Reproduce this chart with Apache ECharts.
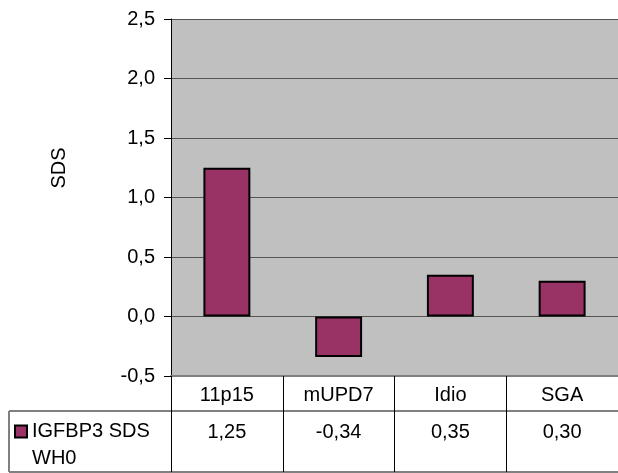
<!DOCTYPE html>
<html>
<head>
<meta charset="utf-8">
<script src="https://cdn.jsdelivr.net/npm/echarts@6/dist/echarts.min.js"></script>
<style>
html,body{margin:0;padding:0;background:#fff;}
#chart{width:618px;height:473px;}
</style>
</head>
<body>
<div id="chart"></div>
<script>
// Data
var categories = ['11p15', 'mUPD7', 'Idio', 'SGA'];
var seriesName = 'IGFBP3 SDS WH0';
var values = [1.25, -0.34, 0.35, 0.30];
var yTicks = [-0.5, 0.0, 0.5, 1.0, 1.5, 2.0, 2.5];
var yAxisTitle = 'SDS';

function fmt(v, d) { return v.toFixed(d).replace('.', ','); }

var FONT = 'Liberation Sans, Arial, sans-serif';
var FS = 20;
var chart = echarts.init(document.getElementById('chart'), null, {renderer: 'canvas'});

var GL = 171, GT = 19, GW = 452, GH = 357;
var tableTop = GT + GH;      // 376
var row1 = tableTop + 35;    // 411
var row2 = 472;

chart.setOption({
  animation: false,
  backgroundColor: '#ffffff',
  textStyle: {fontFamily: FONT},
  grid: {
    left: GL, top: GT, width: GW, height: GH,
    show: true, backgroundColor: '#c0c0c0', borderWidth: 0
  },
  legend: {
    left: 14, top: 391,
    padding: 0,
    itemWidth: 12, itemHeight: 12,
    itemGap: 0,
    data: [{name: seriesName, icon: 'rect'}],
    formatter: function () { return ' \nIGFBP3 SDS\nWH0'; },
    textStyle: {fontSize: FS, color: '#000', fontFamily: FONT, lineHeight: 27},
    itemStyle: {borderColor: '#000', borderWidth: 2}
  },
  xAxis: [{
    type: 'category',
    data: categories,
    position: 'bottom',
    axisLine: {show: true, onZero: false, lineStyle: {color: '#808080', width: 2}},
    axisTick: {show: true, alignWithLabel: false, length: 96, lineStyle: {color: '#000', width: 1}},
    axisLabel: {fontSize: FS, color: '#000', margin: 9, fontFamily: FONT},
    splitLine: {show: false}
  }, {
    type: 'category',
    data: values.map(function (v) { return fmt(v, 2); }),
    position: 'bottom',
    offset: 35,
    axisLine: {show: false},
    axisTick: {show: false},
    axisLabel: {fontSize: FS, color: '#000', margin: 11, fontFamily: FONT}
  }],
  yAxis: {
    type: 'value',
    min: yTicks[0], max: yTicks[yTicks.length - 1], interval: 0.5,
    axisLine: {show: true, lineStyle: {color: '#000', width: 1}},
    axisTick: {show: true, length: 7, lineStyle: {color: '#000'}},
    axisLabel: {fontSize: FS, color: '#000', margin: 16, fontFamily: FONT,
      formatter: function (v) { return fmt(v, 1); }},
    splitLine: {show: true, lineStyle: {color: '#555555', width: 1}}
  },
  series: [{
    name: seriesName,
    type: 'bar',
    data: values,
    barWidth: '42%',
    xAxisIndex: 0,
    itemStyle: {color: '#993366', borderColor: '#000', borderWidth: 2}
  }],
  graphic: [
    {type: 'text', x: 59, y: 168, rotation: Math.PI / 2,
      style: {text: yAxisTitle, font: FS + 'px ' + FONT, fill: '#000', textAlign: 'center', textVerticalAlign: 'middle'}},
    {type: 'line', shape: {x1: 9, y1: row1, x2: 618, y2: row1}, style: {stroke: '#808080', lineWidth: 2}},
    {type: 'line', shape: {x1: 9, y1: row2, x2: 618, y2: row2}, style: {stroke: '#808080', lineWidth: 2}},
    {type: 'line', shape: {x1: 9, y1: row1, x2: 9, y2: row2}, style: {stroke: '#808080', lineWidth: 2}}
  ]
});
</script>
</body>
</html>
